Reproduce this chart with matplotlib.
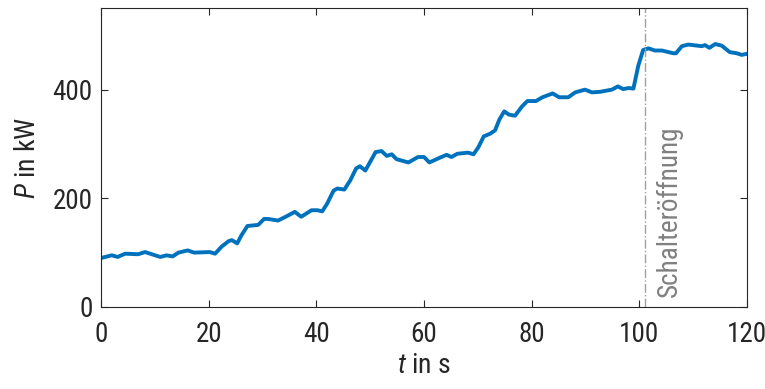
import matplotlib
matplotlib.use("Agg")
import matplotlib.pyplot as plt
from matplotlib import font_manager

names = {f.name for f in font_manager.fontManager.ttflist}
fam = next((f for f in ['Roboto Condensed', 'Archivo Narrow', 'Liberation Sans'] if f in names), 'DejaVu Sans')
plt.rcParams['font.family'] = [fam, 'DejaVu Sans']
plt.rcParams['mathtext.fontset'] = 'custom'
plt.rcParams['mathtext.rm'] = fam
plt.rcParams['mathtext.it'] = fam + ':italic'

# data
t = [0.0, 2.0, 3.1, 4.5, 6.9, 8.2, 11.0, 12.2, 13.3, 14.4, 16.1, 17.3, 20.2, 21.2,
     22.4, 23.7, 24.3, 25.3, 26.1, 27.2, 29.2, 30.3, 31.0, 32.9, 34.5, 36.0, 37.2,
     39.1, 40.2, 41.1, 42.0, 43.2, 43.9, 45.2, 46.3, 47.4, 48.1, 49.1, 51.0, 52.1,
     53.1, 54.0, 54.9, 57.1, 58.9, 60.0, 61.0, 63.0, 64.2, 65.1, 66.2, 68.2, 69.2,
     70.1, 71.1, 72.3, 73.2, 74.0, 74.9, 75.8, 76.9, 78.2, 79.2, 80.8, 82.0, 83.9,
     85.1, 86.8, 88.1, 89.9, 91.2, 92.7, 94.9, 96.0, 97.0, 98.0, 98.9, 99.8, 100.7,
     101.7, 102.9, 104.2, 106.3, 106.8, 107.9, 109.1, 111.6, 112.2, 113.0, 114.1,
     115.3, 116.8, 118.1, 119.0, 120.0]
P = [90, 95, 92, 98, 97, 101, 92, 95, 93, 100, 104, 100, 101, 98,
     111, 121, 123, 117, 132, 149, 151, 162, 162, 159, 167, 175, 166,
     178, 178, 176, 190, 214, 218, 216, 233, 255, 259, 251, 285, 287,
     278, 281, 272, 266, 276, 276, 266, 275, 280, 276, 282, 284, 281,
     294, 314, 319, 325, 345, 360, 354, 352, 369, 379, 379, 386, 393,
     386, 386, 395, 400, 395, 396, 400, 406, 401, 403, 402, 444, 473,
     476, 472, 472, 467, 467, 480, 483, 480, 482, 477, 484,
     481, 469, 467, 464, 466]
t_switch = 101.0
switch_label = "Schalteröffnung"
xticks = [0, 20, 40, 60, 80, 100, 120]
yticks = [0, 200, 400]

dark = '#262626'
fig = plt.figure(figsize=(7.65, 3.89), dpi=100)
ax = fig.add_axes([0.132, 0.211, 0.8445, 0.768])
ax.plot(t, P, color='#0072BD', lw=2.8, solid_joinstyle='round')
ax.axvline(t_switch, color='#A0A0A0', lw=1.0, ls='-.')
ax.text(t_switch + 4.6, 18, switch_label, rotation=90, ha='center', va='bottom',
        color='#808080', fontsize=19.5)
ax.set_xlim(0, 120)
ax.set_ylim(0, 550)
ax.set_xticks(xticks)
ax.set_yticks(yticks)
ax.tick_params(direction='in', length=5, width=0.8, colors=dark, labelsize=19.5,
               top=True, right=True, pad=6)
ax.tick_params(axis='x', pad=10)
for s in ax.spines.values():
    s.set_color(dark)
    s.set_linewidth(0.8)
ax.set_xlabel(r'$\mathit{t}$ in s', fontsize=20, color=dark, labelpad=3)
ax.set_ylabel(r'$\mathit{P}$ in kW', fontsize=20, color=dark, labelpad=8)
fig.savefig('out.png', dpi=100)
